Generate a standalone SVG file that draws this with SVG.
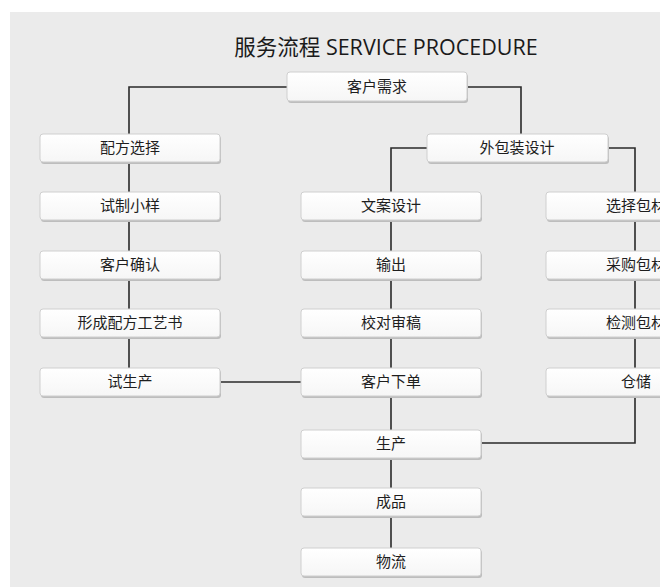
<svg xmlns="http://www.w3.org/2000/svg" width="660" height="587" viewBox="0 0 660 587">
<defs>
<style>
.bg{fill:#ebebeb}
.box{fill:url(#g);stroke:#cfcfcf;stroke-width:1}
.sh{fill:#bdbdbd}
.t{font-family:"Noto Sans CJK SC","Liberation Sans",sans-serif;font-size:15px;fill:#1e1e1e;text-anchor:middle}
.title{font-family:"Open Sans","Noto Sans CJK SC",sans-serif;font-size:21.5px;fill:#1a1a1a;text-anchor:middle}
.c{fill:none;stroke:#2a2a2a;stroke-width:1.6}
</style>
<linearGradient id="g" x1="0" y1="0" x2="0" y2="1">
<stop offset="0" stop-color="#ffffff"/>
<stop offset="1" stop-color="#f6f6f6"/>
</linearGradient>
</defs>
<rect x="0" y="0" width="660" height="587" fill="#ffffff"/>
<rect class="bg" x="10" y="12" width="650" height="575"/>
<text class="title" x="386" y="55"><tspan font-family="Noto Sans CJK SC, sans-serif">服务流程</tspan> SERVICE PROCEDURE</text>
<g id="connectors">
<polyline class="c" points="287,87 129,87 129,382"/>
<polyline class="c" points="467,87 521,87 521,134"/>
<polyline class="c" points="427,148 391,148 391,562"/>
<polyline class="c" points="608,148 635,148 635,443 482,443"/>
<line class="c" x1="220" y1="382" x2="301" y2="382"/>
</g>
<g id="n-khxq"><rect class="sh" x="288" y="74" width="180" height="29" rx="3"/><rect class="box" x="287" y="72" width="180" height="29" rx="3"/><text class="t" x="377" y="92">客户需求</text></g>
<g id="n-pfxz"><rect class="sh" x="41" y="136" width="180" height="28" rx="3"/><rect class="box" x="40" y="134" width="180" height="28" rx="3"/><text class="t" x="130" y="153">配方选择</text></g>
<g id="n-szxy"><rect class="sh" x="41" y="194" width="180" height="28" rx="3"/><rect class="box" x="40" y="192" width="180" height="28" rx="3"/><text class="t" x="130" y="211">试制小样</text></g>
<g id="n-khqr"><rect class="sh" x="41" y="253" width="180" height="28" rx="3"/><rect class="box" x="40" y="251" width="180" height="28" rx="3"/><text class="t" x="130" y="270">客户确认</text></g>
<g id="n-xcpf"><rect class="sh" x="41" y="311" width="180" height="28" rx="3"/><rect class="box" x="40" y="309" width="180" height="28" rx="3"/><text class="t" x="130" y="328">形成配方工艺书</text></g>
<g id="n-ssc"><rect class="sh" x="41" y="370" width="180" height="28" rx="3"/><rect class="box" x="40" y="368" width="180" height="28" rx="3"/><text class="t" x="130" y="387">试生产</text></g>
<g id="n-wbz"><rect class="sh" x="428" y="136" width="181" height="28" rx="3"/><rect class="box" x="427" y="134" width="181" height="28" rx="3"/><text class="t" x="517" y="153">外包装设计</text></g>
<g id="n-wasj"><rect class="sh" x="302" y="194" width="180" height="28" rx="3"/><rect class="box" x="301" y="192" width="180" height="28" rx="3"/><text class="t" x="391" y="211">文案设计</text></g>
<g id="n-sc1"><rect class="sh" x="302" y="253" width="180" height="28" rx="3"/><rect class="box" x="301" y="251" width="180" height="28" rx="3"/><text class="t" x="391" y="270">输出</text></g>
<g id="n-jdsg"><rect class="sh" x="302" y="311" width="180" height="28" rx="3"/><rect class="box" x="301" y="309" width="180" height="28" rx="3"/><text class="t" x="391" y="328">校对审稿</text></g>
<g id="n-khxd"><rect class="sh" x="302" y="370" width="180" height="28" rx="3"/><rect class="box" x="301" y="368" width="180" height="28" rx="3"/><text class="t" x="391" y="387">客户下单</text></g>
<g id="n-shch"><rect class="sh" x="302" y="432" width="180" height="28" rx="3"/><rect class="box" x="301" y="430" width="180" height="28" rx="3"/><text class="t" x="391" y="449">生产</text></g>
<g id="n-cp"><rect class="sh" x="302" y="490" width="180" height="28" rx="3"/><rect class="box" x="301" y="488" width="180" height="28" rx="3"/><text class="t" x="391" y="507">成品</text></g>
<g id="n-wl"><rect class="sh" x="302" y="550" width="180" height="28" rx="3"/><rect class="box" x="301" y="548" width="180" height="28" rx="3"/><text class="t" x="391" y="567">物流</text></g>
<g id="n-xzbc"><rect class="sh" x="547" y="194" width="180" height="28" rx="3"/><rect class="box" x="546" y="192" width="180" height="28" rx="3"/><text class="t" x="636" y="211">选择包材</text></g>
<g id="n-cgbc"><rect class="sh" x="547" y="253" width="180" height="28" rx="3"/><rect class="box" x="546" y="251" width="180" height="28" rx="3"/><text class="t" x="636" y="270">采购包材</text></g>
<g id="n-jcbc"><rect class="sh" x="547" y="311" width="180" height="28" rx="3"/><rect class="box" x="546" y="309" width="180" height="28" rx="3"/><text class="t" x="636" y="328">检测包材</text></g>
<g id="n-cc"><rect class="sh" x="547" y="370" width="180" height="28" rx="3"/><rect class="box" x="546" y="368" width="180" height="28" rx="3"/><text class="t" x="636" y="387">仓储</text></g>
</svg>
